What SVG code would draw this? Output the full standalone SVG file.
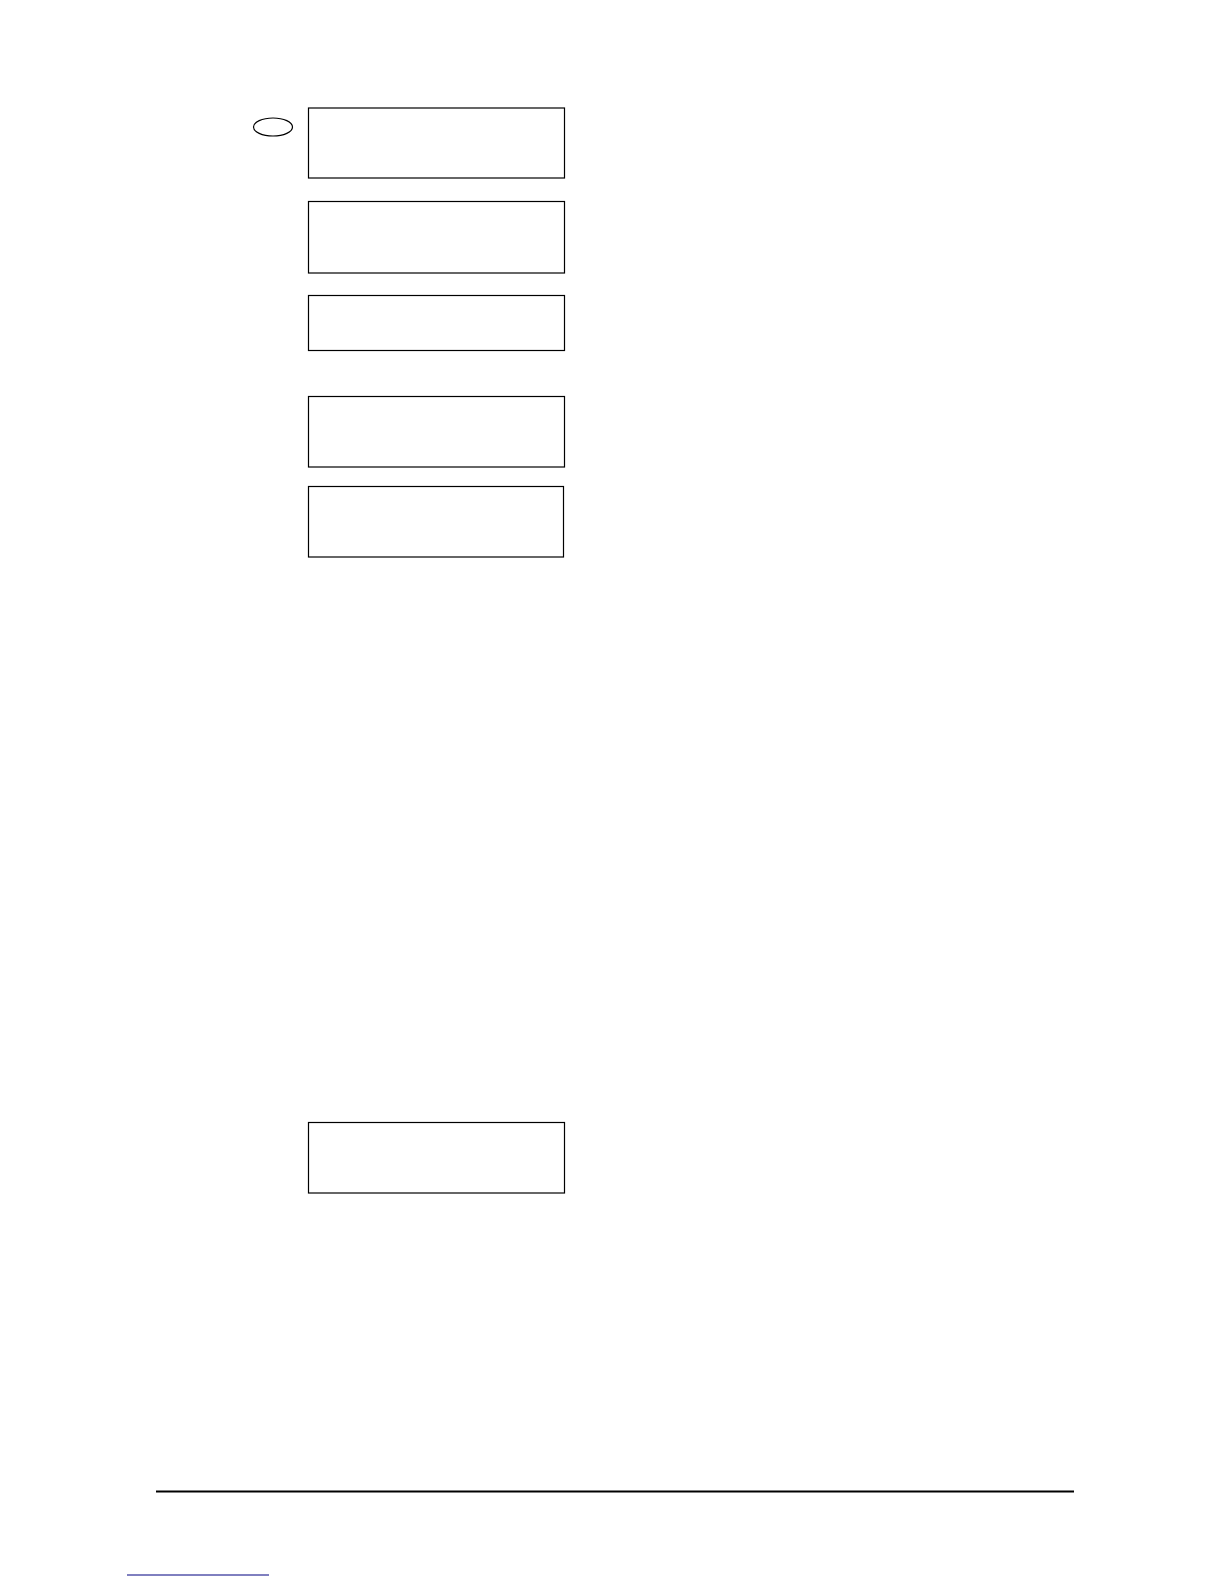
<svg xmlns="http://www.w3.org/2000/svg" width="1224" height="1584" viewBox="0 0 1224 1584">
<style>
.box{fill:#fff;stroke:#000;stroke-width:1.2}
</style>
<rect width="1224" height="1584" fill="#fff"/>
<g id="marker"><ellipse cx="273" cy="127" rx="19.5" ry="9" class="box"/></g>
<g id="box1"><rect x="308.5" y="108" width="256" height="70" class="box"/></g>
<g id="box2"><rect x="308.5" y="201.5" width="256" height="71.5" class="box"/></g>
<g id="box3"><rect x="308.5" y="295.5" width="256" height="55" class="box"/></g>
<g id="box4"><rect x="308.5" y="396.5" width="256" height="70.5" class="box"/></g>
<g id="box5"><rect x="308.5" y="486.5" width="255" height="70.5" class="box"/></g>
<g id="box6"><rect x="308.5" y="1122.5" width="256" height="70.5" class="box"/></g>
<g id="connectors"></g>
<line x1="156" y1="1491.5" x2="1074" y2="1491.5" stroke="#000" stroke-width="2"/>
<line x1="127" y1="1575" x2="269" y2="1575" stroke="#000080" stroke-width="1"/>
</svg>
